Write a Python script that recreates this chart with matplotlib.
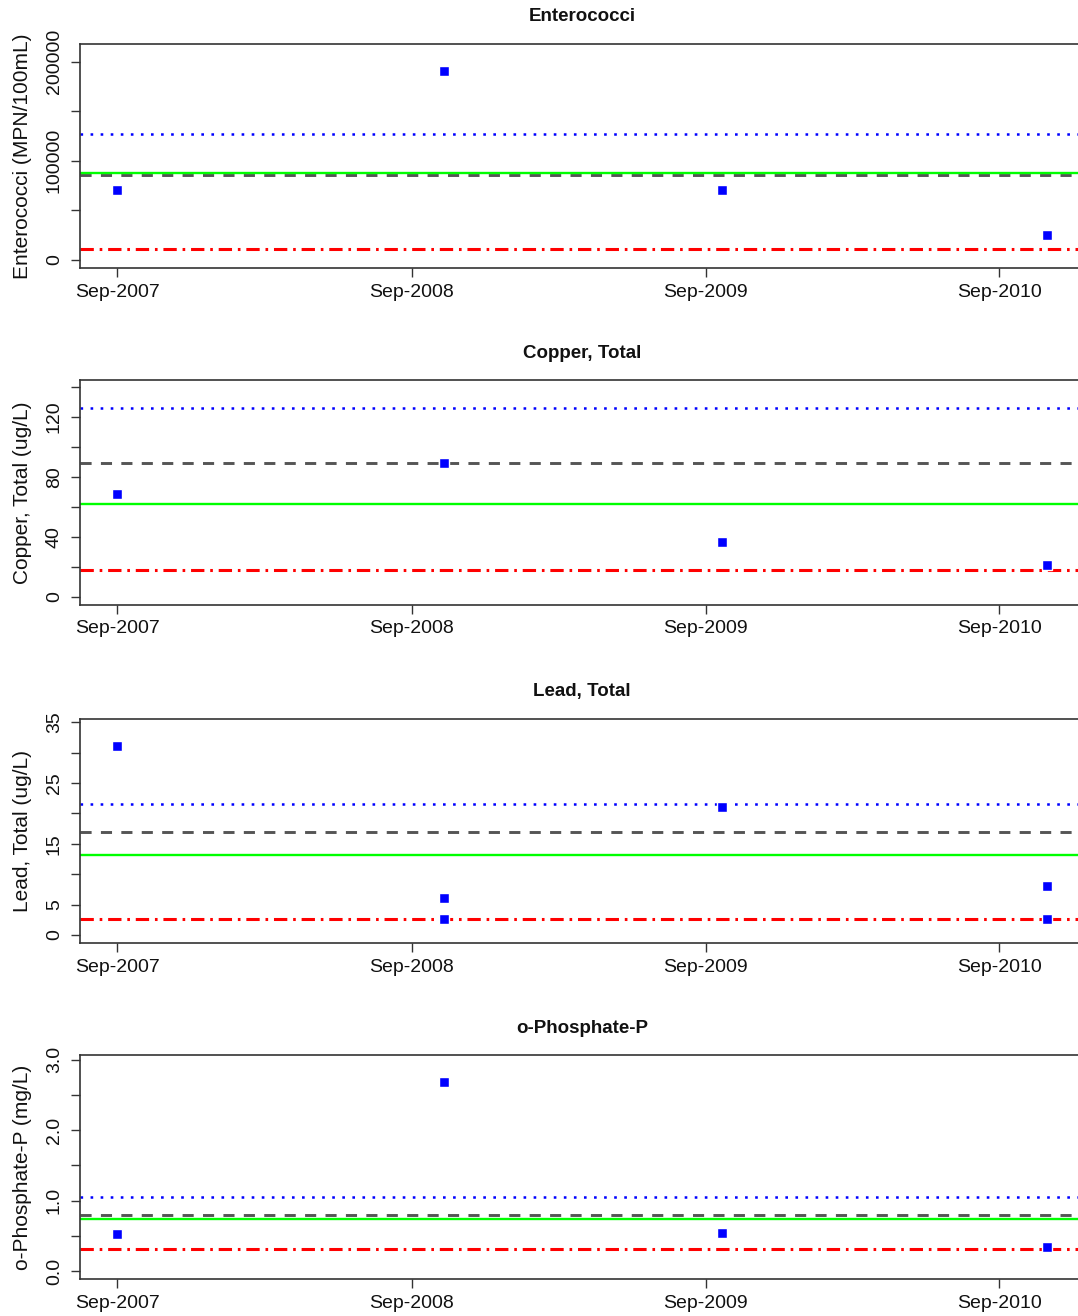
import numpy as np
import matplotlib
matplotlib.use("Agg")
import matplotlib.pyplot as plt
import matplotlib.dates as mdates

plt.rcParams['font.family'] = ['Liberation Sans', 'DejaVu Sans']
plt.rcParams['lines.scale_dashes'] = False

# ---------------- data ----------------
sample_dates = ['2007-09-01', '2008-10-11', '2009-09-22', '2010-10-30']
lead_dates = ['2007-09-01', '2008-10-11', '2008-10-11', '2009-09-22', '2010-10-30', '2010-10-30']

titles = ['Enterococci', 'Copper, Total', 'Lead, Total', 'o-Phosphate-P']
ylabels = ['Enterococci (MPN/100mL)', 'Copper, Total (ug/L)', 'Lead, Total (ug/L)', 'o-Phosphate-P (mg/L)']

entero_vals = [70500, 190600, 70500, 25200]
copper_vals = [68.4, 89.4, 36.5, 21.0]
lead_vals = [31.1, 6.05, 2.56, 21.0, 8.1, 2.56]
phos_vals = [0.531, 2.68, 0.546, 0.344]

# reference lines: blue dotted, gray dashed, green solid, red dot-dash
entero_lines = [127200, 85900, 87900, 11070]
copper_lines = [126.2, 89.2, 61.8, 17.7]
lead_lines = [21.5, 16.9, 13.08, 2.62]
phos_lines = [1.049, 0.80, 0.738, 0.315]

entero_ticks = [0, 50000, 100000, 150000, 200000]
entero_ticklabels = ['0', '', '100000', '', '200000']
copper_ticks = [0, 20, 40, 60, 80, 100, 120, 140]
copper_ticklabels = ['0', '', '40', '', '80', '', '120', '']
lead_ticks = [0, 5, 10, 15, 20, 25, 30, 35]
lead_ticklabels = ['0', '5', '', '15', '', '25', '', '35']
phos_ticks = [0.0, 0.5, 1.0, 1.5, 2.0, 2.5, 3.0]
phos_ticklabels = ['0.0', '', '1.0', '', '2.0', '', '3.0']

# ---------------- styling ----------------
W, H = 1078, 1316
fig = plt.figure(figsize=(W / 100, H / 100), dpi=100)

left_px = 80.3
right_px = 1083.9
panel_px = [(43.7, 268.3), (380.3, 605.0), (718.7, 943.3), (1055.0, 1279.3)]

line_styles = [
    dict(color='#0000FF', lw=1.8, dashes=(1.9, 5.35)),            # dotted blue
    dict(color='#555555', lw=2.1, dashes=(8.0, 6.7)),             # dashed gray
    dict(color='#00FF00', lw=1.7),                                 # solid green
    dict(color='#FF0000', lw=2.2, dashes=(9.6, 4.2, 1.9, 4.2)),   # dot-dash red
]
draw_order = [1, 0, 2, 3]

panels = [
    (sample_dates, entero_vals, entero_lines, entero_ticks, entero_ticklabels),
    (sample_dates, copper_vals, copper_lines, copper_ticks, copper_ticklabels),
    (lead_dates, lead_vals, lead_lines, lead_ticks, lead_ticklabels),
    (sample_dates, phos_vals, phos_lines, phos_ticks, phos_ticklabels),
]

all_dates = mdates.date2num(np.array(sample_dates, dtype='datetime64[D]'))
xr = all_dates.max() - all_dates.min()
xlim = (all_dates.min() - 0.04 * xr, all_dates.max() + 0.04 * xr)

spine_col = '#333333'
text_col = '#111111'

for i, (dts, vals, lines, ticks, tlabels) in enumerate(panels):
    top_px, bot_px = panel_px[i]
    ax = fig.add_axes([left_px / W, 1 - bot_px / H, (right_px - left_px) / W, (bot_px - top_px) / H])
    x = mdates.date2num(np.array(dts, dtype='datetime64[D]'))

    for k in draw_order:
        st = dict(line_styles[k])
        ax.axhline(lines[k], dash_capstyle='butt', solid_capstyle='butt', zorder=2, **st)

    ax.plot(x, vals, linestyle='none', marker='s', ms=7.1, mfc='#0000FF',
            mec='white', mew=1.0, zorder=5)

    ytop = 1.1 * max(max(vals), max(lines))
    ax.set_ylim(-0.04 * ytop, ytop * 1.04)
    ax.set_xlim(*xlim)

    ax.xaxis.set_major_locator(mdates.MonthLocator(bymonth=9, bymonthday=1))
    ax.xaxis.set_major_formatter(mdates.DateFormatter('%b-%Y'))
    ax.set_yticks(ticks)
    ax.set_yticklabels(tlabels)

    ax.tick_params(axis='both', direction='out', length=6.7, width=1.0, color=spine_col,
                   labelsize=14, labelcolor=text_col)
    ax.tick_params(axis='x', pad=4.3)
    ax.tick_params(axis='y', pad=5.8)
    for lab in ax.get_yticklabels():
        lab.set_rotation(90)
        lab.set_va('center')
        lab.set_ha('right')

    for sp in ax.spines.values():
        sp.set_color(spine_col)
        sp.set_linewidth(1.2)

    ax.set_title(titles[i], fontsize=13.5, fontweight='bold', color=text_col, pad=16.0)
    ax.set_ylabel(ylabels[i], fontsize=15, color=text_col)
    ax.yaxis.set_label_coords(-0.0484, 0.5)

fig.savefig('out.png', dpi=100)
